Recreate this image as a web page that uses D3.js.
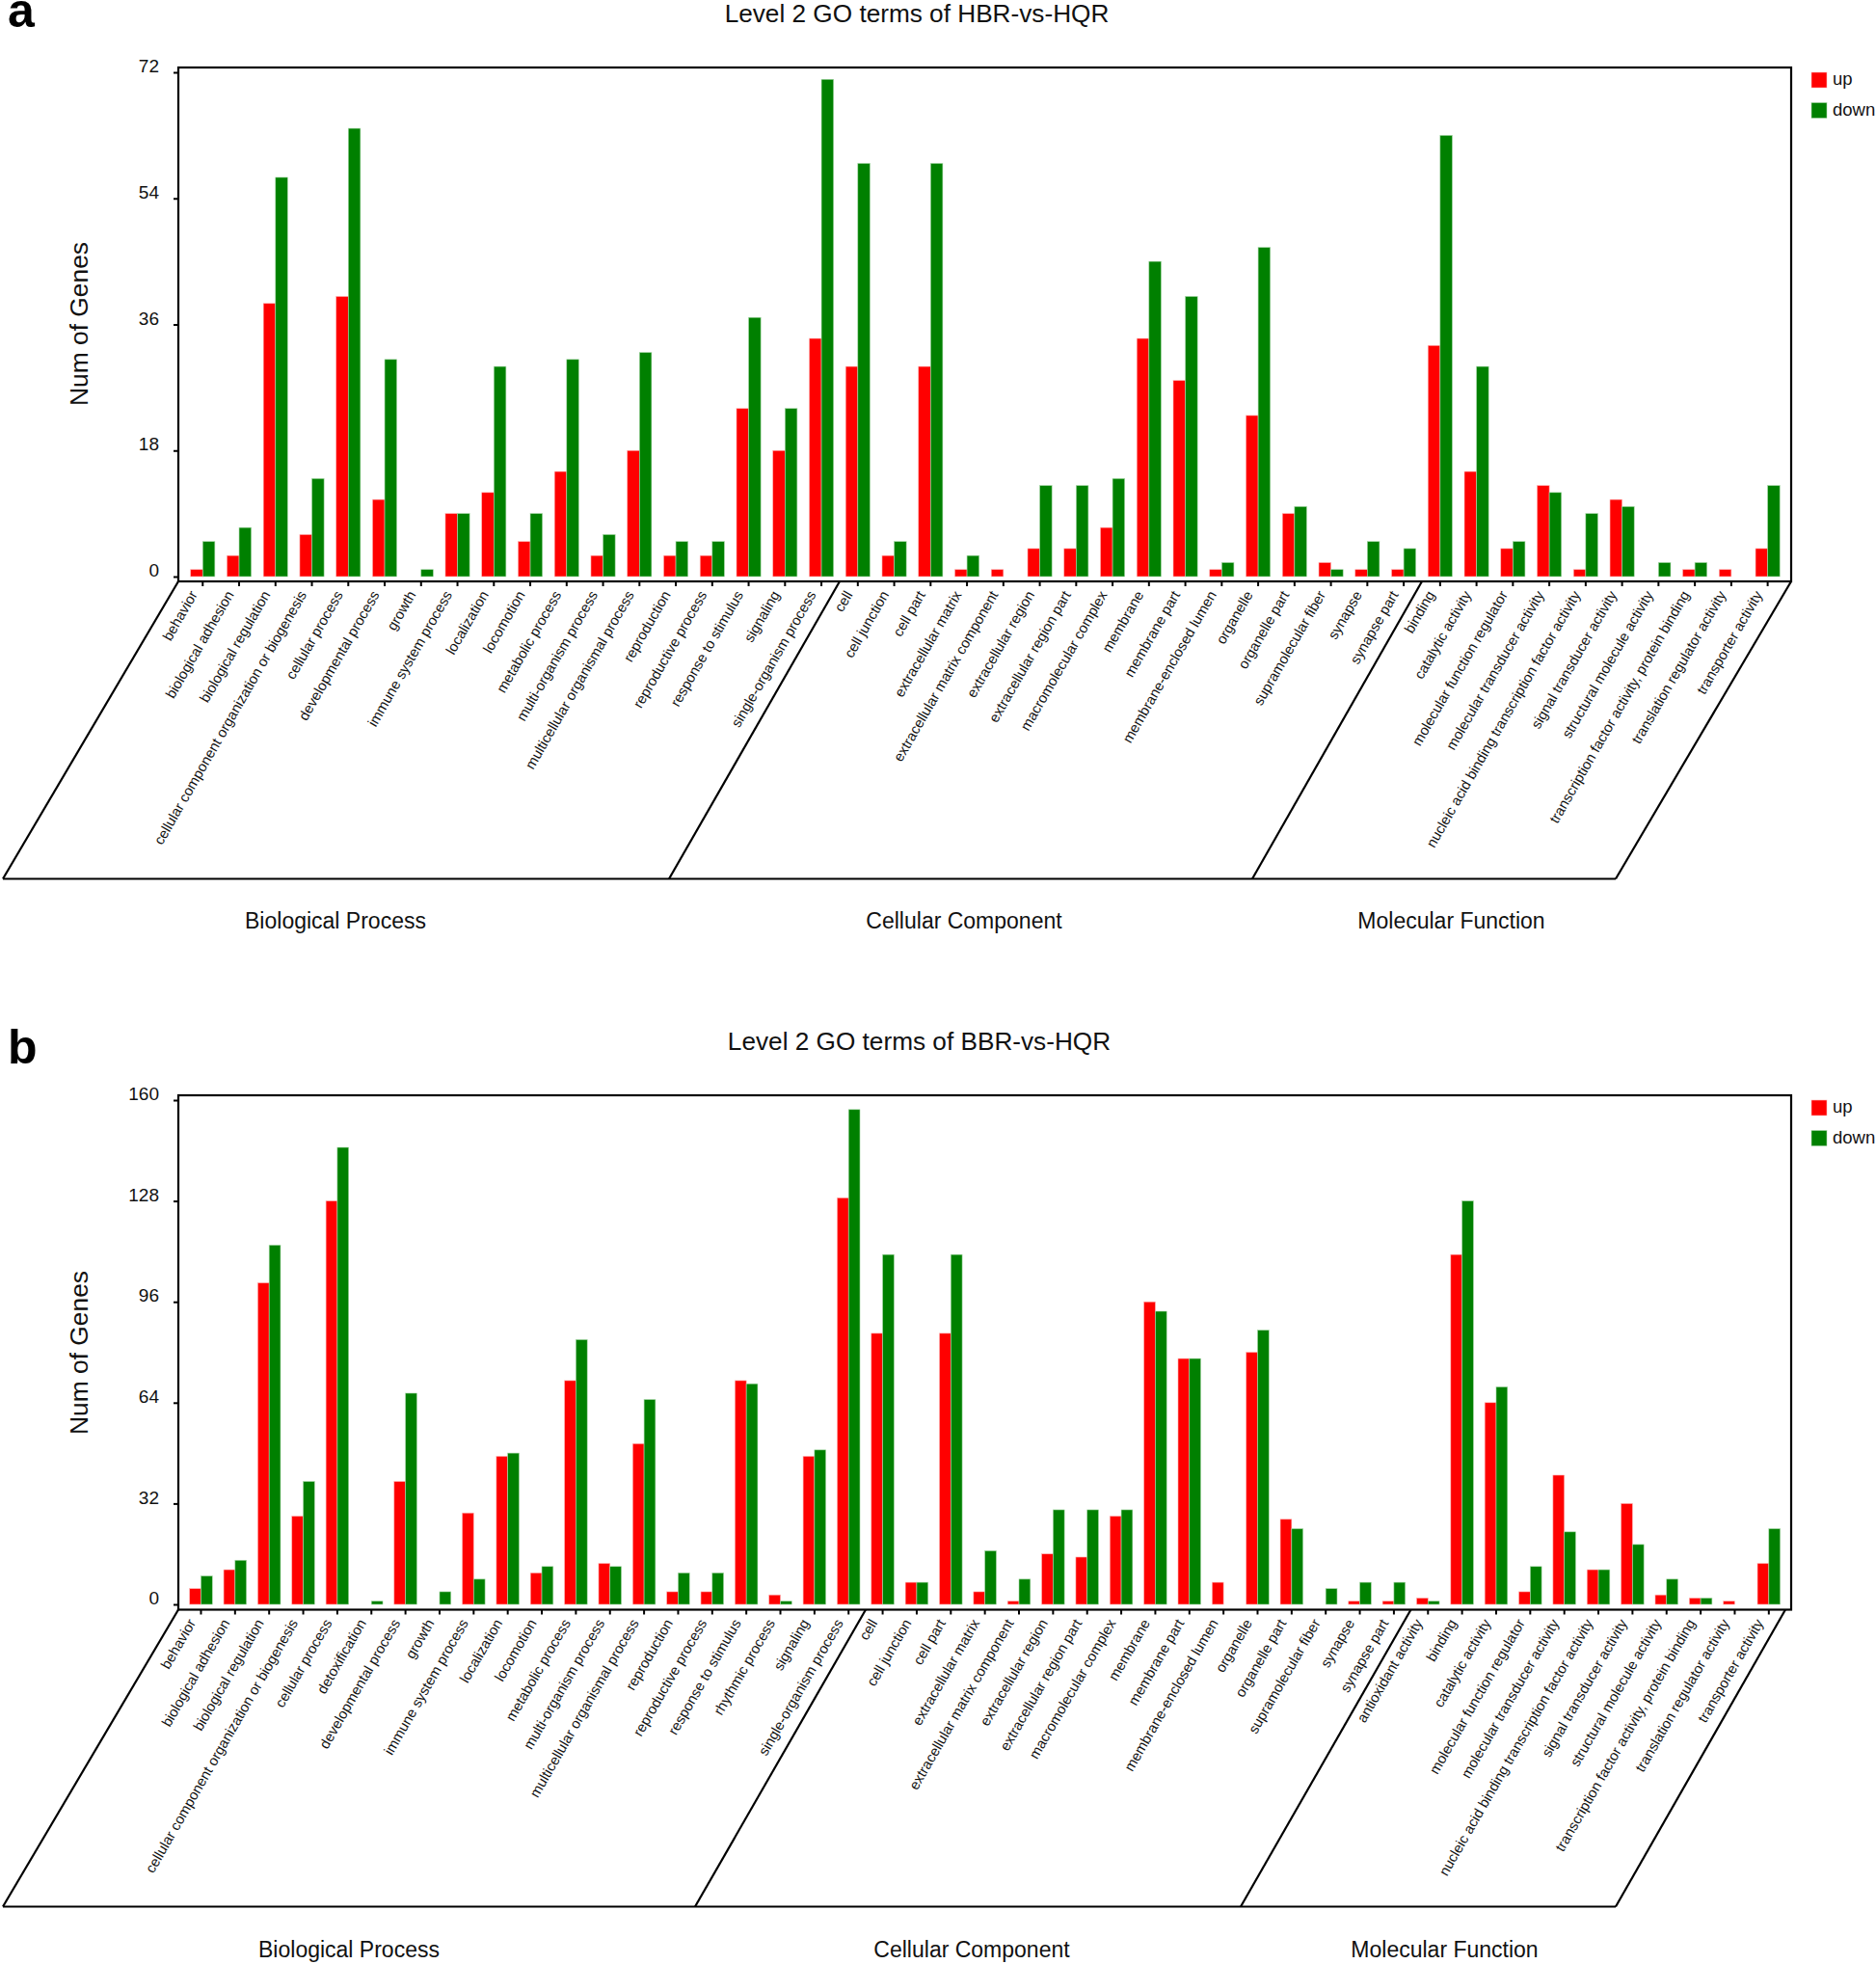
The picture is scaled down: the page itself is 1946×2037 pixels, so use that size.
<!DOCTYPE html>
<html><head><meta charset="utf-8">
<script src="https://cdn.jsdelivr.net/npm/d3@7"></script>
<style>
html,body{margin:0;padding:0;background:#fff}
svg{display:block}
text{font-family:"Liberation Sans",Arial,sans-serif;fill:#111}
</style></head><body>
<div id="chart"></div>
<script>
const seriesNames = ["up", "down"];
const seriesColors = ["#ff0000", "#008000"];
const seriesEdges = ["#ffb4b4", "#a8d8a8"];

const categoriesA = ["behavior","biological adhesion","biological regulation","cellular component organization or biogenesis","cellular process","developmental process","growth","immune system process","localization","locomotion","metabolic process","multi-organism process","multicellular organismal process","reproduction","reproductive process","response to stimulus","signaling","single-organism process","cell","cell junction","cell part","extracellular matrix","extracellular matrix component","extracellular region","extracellular region part","macromolecular complex","membrane","membrane part","membrane-enclosed lumen","organelle","organelle part","supramolecular fiber","synapse","synapse part","binding","catalytic activity","molecular function regulator","molecular transducer activity","nucleic acid binding transcription factor activity","signal transducer activity","structural molecule activity","transcription factor activity, protein binding","translation regulator activity","transporter activity"];
const upA = [1,3,39,6,40,11,0,9,12,5,15,3,18,3,3,24,18,34,30,3,30,1,1,4,4,7,34,28,1,23,9,2,1,1,33,15,4,13,1,11,0,1,1,4];
const downA = [5,7,57,14,64,31,1,9,30,9,31,6,32,5,5,37,24,71,59,5,59,3,0,13,13,14,45,40,2,47,10,1,5,4,63,30,5,12,9,10,2,2,0,13];
const ticksA = [0,18,36,54,72];

const categoriesB = ["behavior","biological adhesion","biological regulation","cellular component organization or biogenesis","cellular process","detoxification","developmental process","growth","immune system process","localization","locomotion","metabolic process","multi-organism process","multicellular organismal process","reproduction","reproductive process","response to stimulus","rhythmic process","signaling","single-organism process","cell","cell junction","cell part","extracellular matrix","extracellular matrix component","extracellular region","extracellular region part","macromolecular complex","membrane","membrane part","membrane-enclosed lumen","organelle","organelle part","supramolecular fiber","synapse","synapse part","antioxidant activity","binding","catalytic activity","molecular function regulator","molecular transducer activity","nucleic acid binding transcription factor activity","signal transducer activity","structural molecule activity","transcription factor activity, protein binding","translation regulator activity","transporter activity"];
const upB = [5,11,102,28,128,0,39,0,29,47,10,71,13,51,4,4,71,3,47,129,86,7,86,4,1,16,15,28,96,78,7,80,27,0,1,1,2,111,64,4,41,11,32,3,2,1,13];
const downB = [9,14,114,39,145,1,67,4,8,48,12,84,12,65,10,10,70,1,49,157,111,7,111,17,8,30,30,30,93,78,0,87,24,5,7,7,1,128,69,12,23,11,19,8,2,0,24];
const ticksB = [0,32,64,96,128,160];

const groupNames = ["Biological Process","Cellular Component","Molecular Function"];

const panels = [
 {tag:"a",tagY:28,title:"Level 2 GO terms of HBR-vs-HQR",titleX:951,titleY:23,cats:categoriesA,up:upA,down:downA,ticks:ticksA,
  top:70,bottom:603,zero:598,maxY:75,bandL:191.4,bandR:1852.5,yTitleY:336,legendY:75,
  floorY:911.5,rightTop:1858,dividers:[[871,694],[1475,1299]],floorRight:1676,groupX:[348,1000,1505.5],groupY:963},
 {tag:"b",tagY:1103,title:"Level 2 GO terms of BBR-vs-HQR",titleX:953.5,titleY:1089,cats:categoriesB,up:upB,down:downB,ticks:ticksB,
  top:1136,bottom:1669.5,zero:1664,maxY:1141,bandL:190.8,bandR:1852.5,yTitleY:1403,legendY:1141,
  floorY:1977.5,rightTop:1852,dividers:[[898,721],[1463.5,1287]],floorRight:1676,groupX:[362,1008,1498.5],groupY:2030}
];

const plotLeft = 185, plotRight = 1858;
const svg = d3.select("#chart").append("svg").attr("width",1946).attr("height",2037);

panels.forEach(p => {
  const g = svg.append("g");
  const x = d3.scaleBand().domain(p.cats).range([p.bandL,p.bandR]);
  const y = d3.scaleLinear().domain([0,p.ticks[p.ticks.length-1]]).range([p.zero,p.maxY]);
  const bw = x.bandwidth()/3;
  const center = c => x(c)+x.bandwidth()/2;

  [p.up,p.down].forEach((vals,si) => {
    g.append("g").selectAll("rect").data(vals.map((v,i)=>({v,i})).filter(d=>d.v>0)).join("rect")
      .attr("x",d=>center(p.cats[d.i])+(si===0?-bw:0))
      .attr("width",bw)
      .attr("y",d=>y(d.v))
      .attr("height",d=>p.zero-y(d.v))
      .attr("fill",seriesColors[si])
      .attr("stroke",seriesEdges[si]).attr("stroke-width",0.6);
  });

  // frame
  g.append("rect").attr("x",plotLeft).attr("y",p.top).attr("width",plotRight-plotLeft).attr("height",p.bottom-p.top)
    .attr("fill","none").attr("stroke","#000").attr("stroke-width",2.2);

  // y axis
  const ya = g.append("g").attr("transform",`translate(${plotLeft},0)`)
    .call(d3.axisLeft(y).tickValues(p.ticks).tickSize(5).tickPadding(15));
  ya.select(".domain").remove();
  ya.selectAll("line").attr("stroke","#000").attr("stroke-width",2);
  ya.selectAll("text").attr("font-size",19).attr("dy","-0.02em").attr("fill","#111")
    .style("font-family",'"Liberation Sans",Arial,sans-serif');

  // x axis
  const xa = g.append("g").attr("transform",`translate(0,${p.bottom})`)
    .call(d3.axisBottom(x).tickSize(5));
  xa.select(".domain").remove();
  xa.selectAll("line").attr("stroke","#000").attr("stroke-width",2);
  xa.selectAll("text")
    .attr("x",0).attr("y",0).attr("dy","0.35em")
    .attr("transform","translate(-9.5,11) rotate(-60)")
    .attr("text-anchor","end").attr("font-size",14.8).attr("fill","#222")
    .style("font-family",'"Liberation Sans",Arial,sans-serif');

  // slanted group frame
  const line = (x1,y1,x2,y2) => g.append("line").attr("x1",x1).attr("y1",y1).attr("x2",x2).attr("y2",y2)
    .attr("stroke","#000").attr("stroke-width",2.2);
  line(plotLeft,p.bottom,3,p.floorY);
  line(3,p.floorY,p.floorRight,p.floorY);
  line(p.rightTop,p.bottom,p.floorRight,p.floorY);
  p.dividers.forEach(d=>line(d[0],p.bottom,d[1],p.floorY));

  groupNames.forEach((n,i)=>g.append("text").attr("x",p.groupX[i]).attr("y",p.groupY)
    .attr("text-anchor","middle").attr("font-size",23).text(n));

  // titles
  g.append("text").attr("x",p.titleX).attr("y",p.titleY).attr("text-anchor","middle").attr("font-size",26.2).text(p.title);
  g.append("text").attr("x",8).attr("y",p.tagY).attr("font-size",50).attr("font-weight","bold").style("fill","#000").text(p.tag);
  g.append("text").attr("transform",`translate(91,${p.yTitleY}) rotate(-90)`).attr("text-anchor","middle").attr("font-size",26.4).text("Num of Genes");

  // legend
  seriesNames.forEach((n,i)=>{
    g.append("rect").attr("x",1879).attr("y",p.legendY+i*31.5).attr("width",16).attr("height",16).attr("fill",seriesColors[i]).attr("stroke",seriesEdges[i]).attr("stroke-width",0.6);
    g.append("text").attr("x",1901).attr("y",p.legendY+13+i*31.5).attr("font-size",18.5).text(n);
  });
});
</script>
</body></html>
